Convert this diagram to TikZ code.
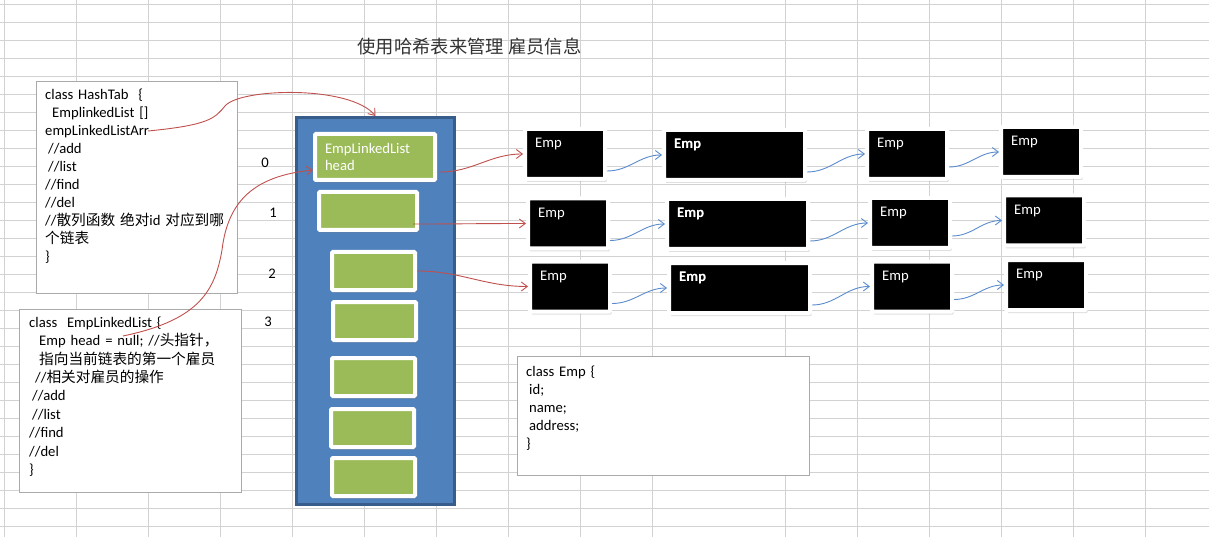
\documentclass[tikz,border=0pt]{standalone}
\usepackage{fontspec}
\setmainfont{Carlito}
\newfontfamily\cjkfont{Noto Sans CJK SC}
\usepackage{tikz}
\usetikzlibrary{
	arrows.meta,
	shadows
}
\definecolor{GridGray}{RGB}{210,210,210}
\definecolor{FrameGray}{RGB}{170,170,170}
\definecolor{CellGreen}{RGB}{155,187,89}
\definecolor{BarBlue}{RGB}{79,129,189}
\definecolor{BarEdge}{RGB}{56,93,138}
\definecolor{LinkRed}{RGB}{192,80,77}
\definecolor{LinkBlue}{RGB}{91,140,205}
\newcommand{\zh}[1]{{\cjkfont #1}}

\begin{document}
\begin{tikzpicture}[x=1pt, y=-1pt, font=\fontsize{14.67}{18}\selectfont,
		gridline/.style={GridGray, line width=1pt},
		codebox/.style={draw=FrameGray, fill=white, line width=0.8pt, inner sep=0pt},
		codetext/.style={anchor=north west, inner sep=0pt, align=left},
		bucket/.style={draw=BarEdge, fill=BarBlue, line width=3pt, inner sep=0pt},
		slot/.style={draw=white, fill=CellGreen, line width=4pt, rounded corners=1pt, inner sep=0pt,
			minimum width=83pt, minimum height=38pt,
			drop shadow={shadow xshift=1.5pt, shadow yshift=-3pt, opacity=0.25}},
		emplabel/.style={anchor=west, text=white, inner sep=0pt, xshift=12pt, yshift=-17pt},
		empbox/.style={draw=white, fill=black, line width=4pt, rounded corners=1pt, inner sep=0pt,
			minimum width=80pt, minimum height=50pt,
			drop shadow={shadow xshift=1.5pt, shadow yshift=-3pt, opacity=0.25},
			label={[emplabel]north west:Emp}},
		wideemp/.style={empbox, minimum width=141pt,
			label={[emplabel]north west:\textbf{Emp}}},
		redlink/.style={LinkRed, line width=0.9pt, -{Straight Barb[length=6pt,width=9pt]}},
		bluelink/.style={LinkBlue, line width=0.9pt, -{Straight Barb[length=6pt,width=9pt]}}]

		\fill[white] (0,0) rectangle (1209,537);
		\useasboundingbox (0,0) rectangle (1209,537);

		% 表格网格
		\foreach \gx in {4.3,76.3,...,652.3} \draw[gridline] (\gx,0) -- (\gx,537);
		\foreach \gx in {785.3,857.3,...,1145.3} \draw[gridline] (\gx,0) -- (\gx,537);
		\foreach \gy in {4.3,22.3,...,526.3} \draw[gridline] (0,\gy) -- (1209,\gy);

		% 标题
		\node[font=\cjkfont\fontsize{18.3}{20}\selectfont, text=black!80] (title) at (469.5,47) {使用哈希表来管理 雇员信息};

		% HashTab 类
		\node[codebox, minimum width=201pt, minimum height=212pt] (hashtab) at (136.5,187) {};
		\node[codetext, text width=200pt] (hashtabcode) at (45,88.5) {class HashTab\ \ \{\\
			\hspace*{7pt}EmplinkedList []\\
			empLinkedListArr\\
			\hspace*{3pt}//add\\
			\hspace*{3pt}//list\\
			//find\\
			//del\\
			//\zh{散列函数} \zh{绝对}id \zh{对应到哪}\\
			\zh{个链表}\\
			\}};
		\coordinate (arrptr) at (148,131);

		% EmpLinkedList 类
		\node[codebox, minimum width=222pt, minimum height=183pt] (linkedlist) at (130,400.5) {};
		\node[codetext, text width=210pt, font=\fontsize{14.67}{18.4}\selectfont] (linkedlistcode) at (29,316.5) {class\ \ EmpLinkedList \{\\
			\hspace*{10pt}Emp head = null; //\zh{头指针，}\\
			\hspace*{10pt}\zh{指向当前链表的第一个雇员}\\
			\hspace*{6pt}//\zh{相关对雇员的操作}\\
			\hspace*{3pt}//add\\
			\hspace*{3pt}//list\\
			//find\\
			//del\\
			\}};
		\coordinate (headptr) at (123,336);

		% Emp 类
		\node[codebox, minimum width=292pt, minimum height=119pt] (empclass) at (663,415.5) {};
		\node[codetext, text width=270pt] (empclasscode) at (526,365.5) {class Emp \{\\
			\hspace*{3pt}id;\\
			\hspace*{3pt}name;\\
			\hspace*{3pt}address;\\
			\}};

		% 数组下标
		\node (idx0) at (265,163) {0};
		\node (idx1) at (273,213) {1};
		\node (idx2) at (272,274) {2};
		\node (idx3) at (268,322) {3};

		% 数组
		\node[bucket, minimum width=158pt, minimum height=387pt] (arr) at (375.5,311) {};
		\node[slot, minimum width=120pt, minimum height=46pt, text width=100pt, inner xsep=10pt,
			align=left, text=white, font=\fontsize{14.67}{17}\selectfont] (slot0) at (375,157) {EmpLinkedList\\head};
		\node[slot, minimum width=98pt] (slot1) at (368,211) {};
		\node[slot] (slot2) at (373.5,271) {};
		\node[slot] (slot3) at (374.5,321) {};
		\node[slot] (slot4) at (373.5,377) {};
		\node[slot] (slot5) at (372.5,428) {};
		\node[slot] (slot6) at (373.5,477) {};

		% 链表结点
		\node[empbox] (emp11) at (565,154) {};
		\node[wideemp] (emp12) at (734.5,155) {};
		\node[empbox] (emp13) at (907,154) {};
		\node[empbox] (emp14) at (1041,152) {};
		\node[empbox] (emp21) at (568,223.5) {};
		\node[wideemp] (emp22) at (737.5,224) {};
		\node[empbox] (emp23) at (910,223) {};
		\node[empbox] (emp24) at (1044,220.5) {};
		\node[empbox] (emp31) at (570,286.5) {};
		\node[wideemp] (emp32) at (739.5,288) {};
		\node[empbox] (emp33) at (912,286.5) {};
		\node[empbox] (emp34) at (1046,285) {};

		% 指针
		\draw[redlink] (arrptr) .. controls (210,125) and (215,118) .. (225,106)
			.. controls (240,88) and (350,85) .. (arr.north);
		\draw[redlink] (headptr) .. controls (200,320) and (215,290) .. (222,250)
			.. controls (228,200) and (255,176) .. ([yshift=-13pt]slot0.west);
		\draw[redlink] ([xshift=3pt,yshift=-15pt]slot0.east) to[out=0,in=180] (emp11.west);
		\draw[redlink] ([xshift=-6pt,yshift=-13pt]slot1.east) to[out=0,in=180] (emp21.west);
		\draw[redlink] (slot2.east) to[out=0,in=180] (emp31.west);
		\foreach \r in {1,2,3}
			\foreach \a/\b/\dy in {1/2/-17,2/3/-17,3/4/-13}
				\draw[bluelink] ([yshift=\dy pt]emp\r\a.east) to[out=0,in=180] (emp\r\b.west);
	\end{tikzpicture}
\end{document}
